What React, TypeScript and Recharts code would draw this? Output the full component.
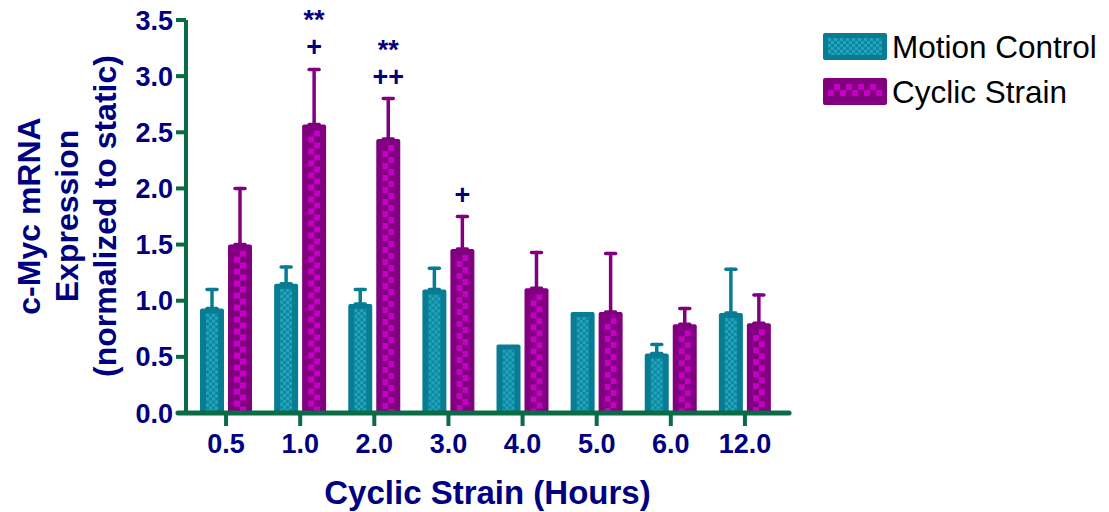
import React from 'react';
import { BarChart, Bar, XAxis, YAxis, ErrorBar, LabelList, Label, Legend } from 'recharts';

const hours = ['0.5', '1.0', '2.0', '3.0', '4.0', '5.0', '6.0', '12.0'];
const motionControl = [0.93, 1.15, 0.97, 1.10, 0.61, 0.90, 0.53, 0.89];
const motionControlErr: (number | null)[] = [0.17, 0.15, 0.13, 0.19, null, null, 0.08, 0.39];
const cyclicStrain = [1.50, 2.57, 2.44, 1.46, 1.11, 0.90, 0.79, 0.80];
const cyclicStrainErr = [0.50, 0.49, 0.36, 0.29, 0.32, 0.52, 0.14, 0.25];
const sigStars = ['', '**', '**', '', '', '', '', ''];
const sigPlus = ['', '+', '++', '+', '', '', '', ''];
const yTicks = [0, 0.5, 1.0, 1.5, 2.0, 2.5, 3.0, 3.5];
const seriesNames = ['Motion Control', 'Cyclic Strain'];

const data = hours.map((h, i) => ({
  hours: h,
  motion: motionControl[i],
  motionErr: motionControlErr[i] == null ? null : [0, motionControlErr[i]],
  cyclic: cyclicStrain[i],
  cyclicErr: [0, cyclicStrainErr[i]],
}));

const NAVY = '#000080';
const GREEN = '#0a6b45';
const TEAL = '#077c92';
const TEAL_A = '#0d88a0';
const TEAL_B = '#22a4bc';
const PURPLE = '#800080';
const MAGENTA = '#c400c4';
const FONT = '"Liberation Sans", Arial, Helvetica, sans-serif';

const TealBar = (props: any) => {
  const { x, y, width, height, index } = props;
  if (!height || height <= 0) return null;
  const id = `tealpat${index}`;
  return (
    <g>
      <defs>
        <pattern id={id} patternUnits="userSpaceOnUse" x={x + 6} y={y + 5} width={6} height={6}>
          <rect width={6} height={6} fill={TEAL_A} />
          <rect width={3} height={3} fill={TEAL_B} />
          <rect x={3} y={3} width={3} height={3} fill={TEAL_B} />
        </pattern>
      </defs>
      <rect x={x} y={y} width={width} height={height} rx={2} fill={TEAL} />
      <rect x={x + 6} y={y + 5} width={Math.max(0, width - 12)} height={Math.max(0, height - 5)} fill={`url(#${id})`} />
    </g>
  );
};

const PurpleBar = (props: any) => {
  const { x, y, width, height, index } = props;
  if (!height || height <= 0) return null;
  const id = `purppat${index}`;
  return (
    <g>
      <defs>
        <pattern id={id} patternUnits="userSpaceOnUse" x={x + 6} y={y + 6} width={12} height={12}>
          <rect width={12} height={12} fill={PURPLE} />
          <rect x={6} y={0} width={6} height={6} fill={MAGENTA} />
          <rect x={0} y={6} width={6} height={6} fill={MAGENTA} />
        </pattern>
      </defs>
      <rect x={x} y={y} width={width} height={height} rx={2} fill={PURPLE} />
      <rect x={x + 6} y={y + 6} width={Math.max(0, width - 12)} height={Math.max(0, height - 6)} fill={`url(#${id})`} />
    </g>
  );
};

const renderAnnot = (props: any) => {
  const vb = props.viewBox && props.viewBox.width != null ? props.viewBox : props;
  const x = Number(vb.x);
  const y = Number(vb.y);
  const width = Number(vb.width);
  const height = Number(vb.height);
  const index = props.index;
  const stars = sigStars[index];
  const plus = sigPlus[index];
  if (!stars && !plus) return null;
  const v = cyclicStrain[index];
  const e = cyclicStrainErr[index];
  const capY = y - (e * height) / v;
  const cx = x + width / 2;
  return (
    <g>
      {plus ? (
        <text x={cx} y={capY - 13} textAnchor="middle" fill={NAVY} fontFamily={FONT} fontWeight="bold" fontSize={27}>
          {plus}
        </text>
      ) : null}
      {stars ? (
        <text x={cx} y={capY - 40} textAnchor="middle" fill={NAVY} fontFamily={FONT} fontWeight="bold" fontSize={27}>
          {stars}
        </text>
      ) : null}
    </g>
  );
};

const yTitleLines = ['c-Myc mRNA', 'Expression', '(normalized to static)'];
const renderYTitle = () => (
  <g>
    {yTitleLines.map((t, i) => (
      <text
        key={t}
        transform={`translate(${28 + i * 38},216) rotate(-90)`}
        textAnchor="middle"
        dy="0.36em"
        fill={NAVY}
        fontFamily={FONT}
        fontWeight="bold"
        fontSize={32}
      >
        {t}
      </text>
    ))}
  </g>
);

const renderXTitle = (props: any) => {
  const vb = props.viewBox || {};
  const cx = (vb.x ?? 186) + (vb.width ?? 603) / 2;
  return (
    <text x={cx} y={504} textAnchor="middle" fill={NAVY} fontFamily={FONT} fontWeight="bold" fontSize={33}>
      Cyclic Strain (Hours)
    </text>
  );
};

const renderLegend = () => (
  <div style={{ position: 'relative', width: 286, height: 100 }}>
    <svg width={286} height={100} style={{ position: 'absolute', left: 0, top: 0, overflow: 'visible' }}>
      <defs>
        <pattern id="legTeal" patternUnits="userSpaceOnUse" x={5} y={5} width={6} height={6}>
          <rect width={6} height={6} fill={TEAL_A} />
          <rect width={3} height={3} fill={TEAL_B} />
          <rect x={3} y={3} width={3} height={3} fill={TEAL_B} />
        </pattern>
        <pattern id="legPurp" patternUnits="userSpaceOnUse" x={5} y={51} width={12} height={12}>
          <rect width={12} height={12} fill={PURPLE} />
          <rect x={6} y={0} width={6} height={6} fill={MAGENTA} />
          <rect x={0} y={6} width={6} height={6} fill={MAGENTA} />
        </pattern>
      </defs>
      <rect x={0} y={0} width={64} height={27} rx={2} fill={TEAL} />
      <rect x={5} y={5} width={54} height={17} fill="url(#legTeal)" />
      <rect x={0} y={45} width={64} height={27} rx={2} fill={PURPLE} />
      <rect x={5} y={51} width={54} height={12} fill="url(#legPurp)" />
      {seriesNames.map((n, i) => (
        <text key={n} x={69} y={14 + i * 45} dy="0.36em" fill="#000" fontFamily={FONT} fontSize={31.5}>
          {n}
        </text>
      ))}
    </svg>
  </div>
);

export default function App() {
  return (
    <div style={{ position: 'absolute', left: 0, top: 0, width: 1109, height: 512, background: '#fff' }}>
      <BarChart
        width={1109}
        height={512}
        data={data}
        margin={{ top: 20, right: 320, bottom: 39, left: 106 }}
        barSize={24}
        barGap={4}
      >
        <XAxis
          dataKey="hours"
          height={60}
          axisLine={{ stroke: GREEN, strokeWidth: 5, strokeLinecap: 'round', transform: 'matrix(1.01327 0 0 1 -10.468 0)' }}
          tickLine={{ stroke: GREEN, strokeWidth: 4 }}
          tickSize={13}
          tickMargin={8}
          padding={{ left: 3, right: 7 }}
          tick={{ fill: NAVY, fontFamily: FONT, fontWeight: 'bold', fontSize: 27 }}
          interval={0}
        >
          <Label content={renderXTitle} />
        </XAxis>
        <YAxis
          width={80}
          domain={[0, 3.5]}
          ticks={yTicks}
          interval={0}
          tickFormatter={(v: number) => v.toFixed(1)}
          axisLine={{ stroke: GREEN, strokeWidth: 4 }}
          tickLine={{ stroke: GREEN, strokeWidth: 4 }}
          tickSize={10}
          tickMargin={3}
          tick={{ fill: NAVY, fontFamily: FONT, fontWeight: 'bold', fontSize: 27 }}
        >
          <Label content={renderYTitle} />
        </YAxis>
        <Legend
          layout="horizontal"
          verticalAlign="middle"
          align="center"
          content={renderLegend}
          wrapperStyle={{ left: 823, top: 33, width: 286, height: 100 }}
        />
        <Bar dataKey="motion" name={seriesNames[0]} fill={TEAL} shape={TealBar} isAnimationActive={false}>
          <ErrorBar dataKey="motionErr" direction="y" width={5} stroke={TEAL} strokeWidth={3.5} strokeLinecap="round" />
        </Bar>
        <Bar dataKey="cyclic" name={seriesNames[1]} fill={PURPLE} shape={PurpleBar} isAnimationActive={false}>
          <ErrorBar dataKey="cyclicErr" direction="y" width={5} stroke={PURPLE} strokeWidth={3.5} strokeLinecap="round" />
          <LabelList dataKey="cyclic" content={renderAnnot} />
        </Bar>
      </BarChart>
    </div>
  );
}
